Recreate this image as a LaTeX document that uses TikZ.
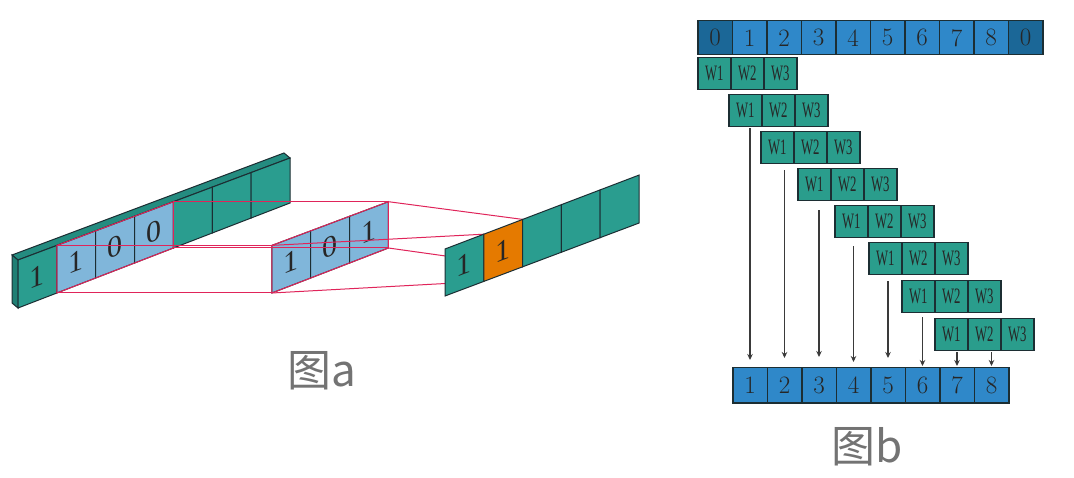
\documentclass[tikz,border=0pt]{standalone}
\usepackage{fontspec}
\usepackage{graphicx}
\newfontfamily\cjk{Noto Sans CJK SC}
\newfontfamily\dserif{Liberation Serif}
\usetikzlibrary{arrows.meta,calc}
\definecolor{teal1}{HTML}{2A9D8F}
\definecolor{tealtop}{HTML}{248C80}
\definecolor{tealside}{HTML}{1F7F74}
\definecolor{lblue}{HTML}{80B6DA}
\definecolor{orng}{HTML}{E57A00}
\definecolor{bblue}{HTML}{2F88C9}
\definecolor{dblue}{HTML}{1B6797}
\definecolor{wteal}{HTML}{2A9D8C}
\definecolor{edge}{HTML}{1C2E33}
\definecolor{redl}{HTML}{E0245A}
\definecolor{arrowc}{HTML}{3A3A3A}
\tikzset{
  cellb/.style={draw=edge, line width=1.5pt, minimum width=34.5pt, minimum height=34pt,
    inner sep=0pt, anchor=north west, font=\fontsize{25}{25}\selectfont, text=black!85},
  wcell/.style={draw=edge, fill=wteal, line width=1.5pt, minimum width=33pt, minimum height=32pt,
    inner sep=0pt, anchor=north west, font=\dserif\fontsize{22}{22}\selectfont, text=black!85},
  arr/.style={draw=arrowc, line width=1.6pt, -{Stealth[length=6pt,width=5.5pt]}},
  face/.style={draw=edge, line width=1pt},
  digit/.style={inner sep=0pt, font=\dserif\fontsize{30}{30}\selectfont, text=black!85, yslant=0.38, transform shape},
  redline/.style={draw=redl, line width=1pt},
  lab/.style={inner sep=0pt, font=\cjk\fontsize{44}{44}\selectfont, text=black!55}
}
\begin{document}
\begin{tikzpicture}[x=1pt,y=-1pt]
\fill[white] (0,0) rectangle (1074,478);
\useasboundingbox (0,0) rectangle (1074,478);

% ================= Figure a =================
% thickness of the input bar
\filldraw[face, fill=tealtop] (18,260) -- (290,158) -- (284,153) -- (12,255) -- cycle;
\filldraw[face, fill=tealside] (18,260) -- (18,308) -- (12,303) -- (12,255) -- cycle;
% front cells of the input bar
\foreach \j/\col in {0/teal1,1/lblue,2/lblue,3/lblue,4/teal1,5/teal1,6/teal1} {
  \pgfmathsetmacro\xl{18+38.86*\j}
  \pgfmathsetmacro\xr{\xl+38.86}
  \filldraw[face, fill=\col] (\xl,{260-0.375*(\xl-18)}) -- (\xr,{260-0.375*(\xr-18)})
     -- (\xr,{308-0.386*(\xr-18)}) -- (\xl,{308-0.386*(\xl-18)}) -- cycle;
}
\foreach \j/\d in {0/1,1/1,2/0,3/0} {
  \pgfmathsetmacro\xc{18+38.86*(\j+0.5)}
  \node[digit] (in\j) at (\xc,{284-0.3805*(\xc-18)}) {\d};
}
% highlighted window corners on the bar
\coordinate (hTL) at (56.86,245.4);
\coordinate (hTR) at (173.44,201.7);
\coordinate (hBR) at (173.44,248.0);
\coordinate (hBL) at (56.86,293.0);
\draw[redline] (hTL) -- (hTR) -- (hBR) -- (hBL) -- cycle;

% middle kernel window
\foreach \j in {0,1,2} {
  \pgfmathsetmacro\xl{271.86+38.86*\j}
  \pgfmathsetmacro\xr{\xl+38.86}
  \filldraw[face, fill=lblue] (\xl,{245.4-0.375*(\xl-271.86)}) -- (\xr,{245.4-0.375*(\xr-271.86)})
     -- (\xr,{293.0-0.386*(\xr-271.86)}) -- (\xl,{293.0-0.386*(\xl-271.86)}) -- cycle;
}
\foreach \j/\d in {0/1,1/0,2/1} {
  \pgfmathsetmacro\xc{271.86+38.86*(\j+0.5)}
  \node[digit] (k\j) at (\xc,{269.2-0.3805*(\xc-271.86)}) {\d};
}
\coordinate (mTL) at (271.86,245.4);
\coordinate (mTR) at (388.44,201.7);
\coordinate (mBR) at (388.44,248.0);
\coordinate (mBL) at (271.86,293.0);
\draw[redline] (mTL) -- (mTR) -- (mBR) -- (mBL) -- cycle;

% output cell corners
\coordinate (oTL) at (483.8,234.2);
\coordinate (oTR) at (522.6,219.4);
\coordinate (oBR) at (522.6,266.8);
\coordinate (oBL) at (483.8,281.4);

% projection lines
\draw[redline] (hTL) -- (mTL);
\draw[redline] (hBL) -- (mBL);
\draw[redline] (hTR) -- (mTR);
\draw[redline] (hBR) -- (mBR);
\draw[redline] (mTL) -- (oTL);
\draw[redline] (mBL) -- (oBL);
\draw[redline] (mTR) -- (oTR);
\draw[redline] (mBR) -- (oBR);

% output strip
\foreach \j/\col in {0/teal1,1/orng,2/teal1,3/teal1,4/teal1} {
  \pgfmathsetmacro\xl{445+38.8*\j}
  \pgfmathsetmacro\xr{\xl+38.8}
  \filldraw[face, fill=\col] (\xl,{249-0.381*(\xl-445)}) -- (\xr,{249-0.381*(\xr-445)})
     -- (\xr,{296-0.376*(\xr-445)}) -- (\xl,{296-0.376*(\xl-445)}) -- cycle;
}
\foreach \j in {0,1} {
  \pgfmathsetmacro\xc{445+38.8*(\j+0.5)}
  \node[digit] (out\j) at (\xc,{272.5-0.3785*(\xc-445)}) {1};
}

\node[lab] (la) at (322,371) {图a};

% ================= Figure b =================
\foreach \i/\l/\col in {0/0/dblue,1/1/bblue,2/2/bblue,3/3/bblue,4/4/bblue,5/5/bblue,6/6/bblue,7/7/bblue,8/8/bblue,9/0/dblue}
  \node[cellb, fill=\col] (t\i) at ({697+34.5*\i},20) {\l};

\foreach \r/\xx/\yy in {1/697/57, 2/728/94, 3/760/131, 4/797/168, 5/834/205, 6/868/242, 7/901/280, 8/934/318} {
  \foreach \k in {1,2,3}
    \node[wcell] (w\r-\k) at ({\xx+33*(\k-1)},\yy) {\scalebox{0.58}[1]{W\k}};
}

\foreach \i in {1,...,8}
  \node[cellb, fill=bblue, minimum height=35pt] (b\i) at ({732+34.5*(\i-1)},367) {\i};

\foreach \i/\r/\s/\e in {1/2/1/7, 2/3/6/9, 3/4/9/10, 4/5/8/5, 5/6/6/9, 6/7/4/1, 7/8/1/1, 8/8/1/1}
  \draw[arr] ($(b\i.north |- w\r-1.south)+(0,\s)$) -- ($(b\i.north)+(0,-\e)$);

\node[lab] (lbb) at (867,447) {图b};
\end{tikzpicture}
\end{document}
